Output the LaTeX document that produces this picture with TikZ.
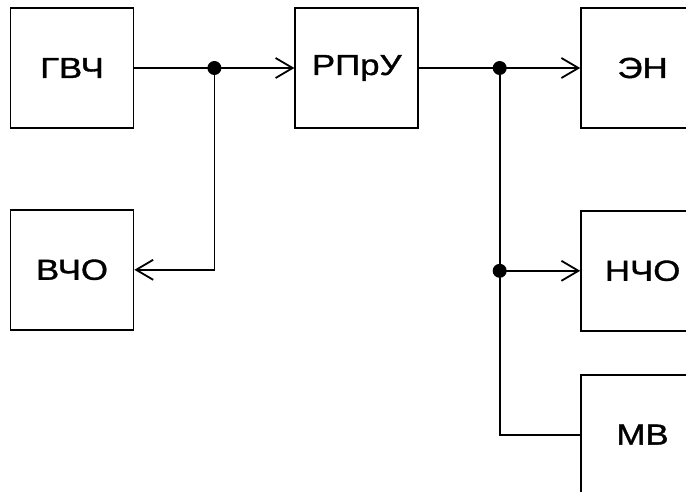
\documentclass[tikz,border=0pt]{standalone}
\usepackage{fontspec}
\setmainfont{Liberation Sans}[FakeStretch=1.2,FakeBold=1.2]
\usepackage{tikz}
\usetikzlibrary{positioning,arrows.meta,calc}

\begin{document}
\begin{tikzpicture}[
    blok/.style={draw, line width=1.8pt, minimum width=123pt, minimum height=120pt,
      inner sep=0pt, font=\fontsize{29}{31}\selectfont},
    svyaz/.style={line width=1.8pt},
    strelka/.style={svyaz, -{Straight Barb[length=17pt,width=20pt,line width=1.8pt]}},
    uzel/.style={circle, fill=black, inner sep=0pt, minimum size=14pt},
    node distance=160pt and 160pt
  ]
    \useasboundingbox (0,0) rectangle (686pt,-491pt);
    \clip (0,0) rectangle (686pt,-491pt);

    \node[blok] (gvch) at (72pt,-68pt) {ГВЧ};
    \node[blok, right=160pt of gvch] (rpru) {РПрУ};
    \node[blok, right=161pt of rpru] (en) {ЭН};
    \node[blok, below=80pt of gvch] (vcho) {ВЧО};
    \node[blok, below=81pt of en] (ncho) {НЧО};
    \node[blok, below=42pt of ncho] (mv) {МВ};

    \coordinate (t1) at ($(gvch.east)!0.5!(rpru.west)$);
    \coordinate (t2) at ($(rpru.east)!0.5!(en.west)$);
    \coordinate (t3) at (t2 |- ncho.west);

    \draw[strelka] (gvch.east) -- (rpru.west);
    \draw[strelka] (t1) |- (vcho.east);
    \draw[strelka] (rpru.east) -- (en.west);
    \draw[strelka] (t3) -- (ncho.west);
    \draw[svyaz] (t2) |- (mv.west);

    \node[uzel] at (t1) {};
    \node[uzel] at (t2) {};
    \node[uzel] at (t3) {};
  \end{tikzpicture}
\end{document}
